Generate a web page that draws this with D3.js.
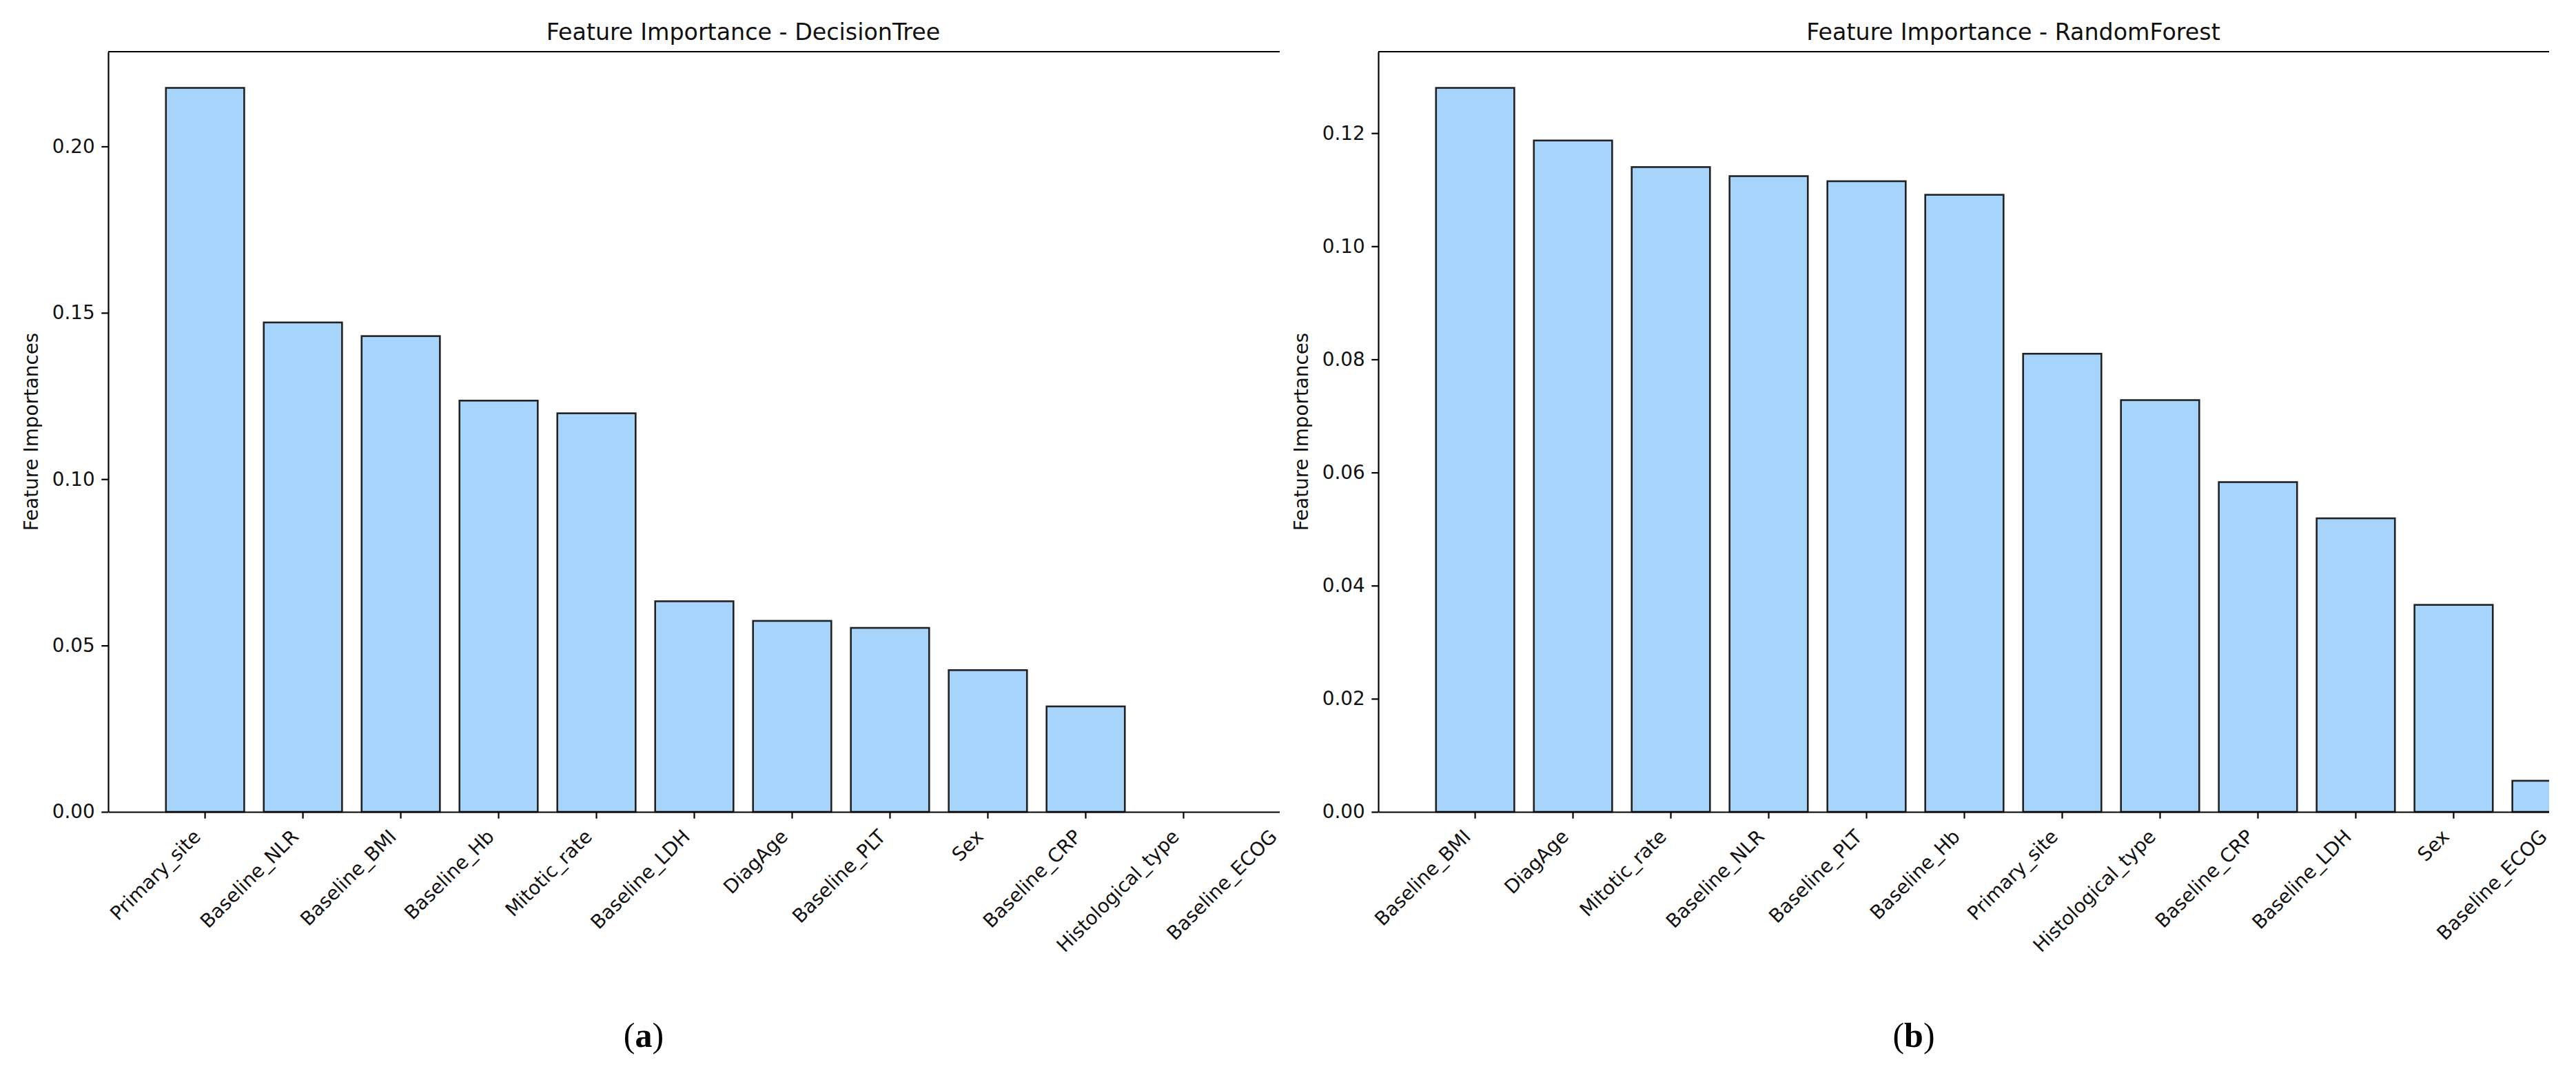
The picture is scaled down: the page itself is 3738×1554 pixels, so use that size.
<!DOCTYPE html>
<html>
<head>
<meta charset="utf-8">
<script src="https://cdn.jsdelivr.net/npm/d3@7"></script>
<style>
  body { margin: 0; background: #fff; }
  svg { display: block; }
</style>
</head>
<body>
<div class="canvas"></div>
<script>
// data
const dtFeatures = ['Primary_site', 'Baseline_NLR', 'Baseline_BMI', 'Baseline_Hb', 'Mitotic_rate', 'Baseline_LDH',
    'DiagAge', 'Baseline_PLT', 'Sex', 'Baseline_CRP', 'Histological_type', 'Baseline_ECOG']
const dtValues = [0.2176, 0.1471, 0.1430, 0.1236, 0.1198, 0.0633, 0.0574, 0.0553, 0.0426, 0.0317, 0, 0]

const rfFeatures = ['Baseline_BMI', 'DiagAge', 'Mitotic_rate', 'Baseline_NLR', 'Baseline_PLT', 'Baseline_Hb',
    'Primary_site', 'Histological_type', 'Baseline_CRP', 'Baseline_LDH', 'Sex', 'Baseline_ECOG']
const rfValues = [0.1280, 0.1187, 0.1140, 0.1124, 0.1115, 0.1091, 0.0810, 0.0728, 0.0583, 0.0519, 0.0366, 0.0055]

const dtTicks = [0, 0.05, 0.10, 0.15, 0.20]
const rfTicks = [0, 0.02, 0.04, 0.06, 0.08, 0.10, 0.12]

const titles = ['Feature Importance - DecisionTree', 'Feature Importance - RandomForest']
const panelLetters = ['a', 'b']
const yLabel = 'Feature Importances'

// dimensions
const dimensions = { width: 3738, height: 1554 }
const plot = { top: 75, bottom: 1178, width: 1843 }

const svg = d3.select('.canvas')
    .append('svg')
    .attr('width', dimensions.width)
    .attr('height', dimensions.height)

const defs = svg.append('defs')

const drawPanel = (idx, features, values, ticks, left, cropLeft, cropRight) => {

    // each half of the figure is cut off on the right
    defs.append('clipPath')
        .attr('id', `clip${idx}`)
        .append('rect')
        .attr('x', cropLeft)
        .attr('y', 0)
        .attr('width', cropRight - cropLeft)
        .attr('height', dimensions.height)

    const panel = svg.append('g')
        .attr('clip-path', `url(#clip${idx})`)

    const x = d3.scaleBand()
        .domain(features)
        .range([left, left + plot.width])
        .paddingInner(0.2)
        .paddingOuter(0.59)

    const y = d3.scaleLinear()
        .domain([0, d3.max(values) * 1.05])
        .range([plot.bottom, plot.top])

    // bars
    panel.selectAll('rect.bar')
        .data(features)
        .enter()
        .append('rect')
        .attr('class', 'bar')
        .attr('x', d => x(d))
        .attr('width', x.bandwidth())
        .attr('y', (d, i) => y(values[i]))
        .attr('height', (d, i) => plot.bottom - y(values[i]))
        .attr('fill', '#a6d4fa')
        .attr('stroke', '#222')
        .attr('stroke-width', 2.6)

    // axes
    const yAxis = d3.axisLeft(y)
        .tickValues(ticks)
        .tickFormat(d3.format('.2f'))
        .tickSize(9.7)
        .tickSizeOuter(0)
        .tickPadding(9.7)

    const xAxis = d3.axisBottom(x)
        .tickSize(9.7)
        .tickSizeOuter(0)
        .tickPadding(9.7)

    const yAxisGroup = panel.append('g')
        .attr('transform', `translate(${left}, 0)`)
        .call(yAxis)

    const xAxisGroup = panel.append('g')
        .attr('transform', `translate(0, ${plot.bottom})`)
        .call(xAxis)

    // top spine
    panel.append('line')
        .attr('x1', left)
        .attr('x2', left + plot.width)
        .attr('y1', plot.top)
        .attr('y2', plot.top)
        .attr('stroke', '#000')
        .attr('stroke-width', 2.2)

    panel.selectAll('.domain, .tick line')
        .attr('stroke', '#000')
        .attr('stroke-width', 2.2)

    yAxisGroup.selectAll('text')
        .attr('font-family', 'DejaVu Sans')
        .attr('font-size', 27.8)
        .attr('fill', '#111')

    // rotated labels, upper right corner under the tick
    xAxisGroup.selectAll('text')
        .attr('font-family', 'DejaVu Sans')
        .attr('font-size', 27.8)
        .attr('fill', '#111')
        .attr('text-anchor', 'end')
        .attr('x', 0)
        .attr('y', -6.7)
        .attr('dy', null)
        .attr('transform', 'translate(0, 42.4) rotate(-45)')

    // y label
    panel.append('text')
        .attr('transform', `translate(${left - 112}, ${(plot.top + plot.bottom) / 2}) rotate(-90)`)
        .attr('text-anchor', 'middle')
        .attr('dy', '0.35em')
        .attr('font-family', 'DejaVu Sans')
        .attr('font-size', 27.8)
        .attr('fill', '#111')
        .text(yLabel)

    // title
    panel.append('text')
        .attr('x', left + plot.width / 2)
        .attr('y', plot.top - 16.7)
        .attr('text-anchor', 'middle')
        .attr('font-family', 'DejaVu Sans')
        .attr('font-size', 33.3)
        .attr('fill', '#111')
        .text(titles[idx])
}

drawPanel(0, dtFeatures, dtValues, dtTicks, 157, 0, 1857)
drawPanel(1, rfFeatures, rfValues, rfTicks, 2000, 1857, 3699)

// sub figure letters
const letterX = [934, 2777]
panelLetters.forEach((letter, i) => {
    const t = svg.append('text')
        .attr('x', letterX[i])
        .attr('y', 1519)
        .attr('text-anchor', 'middle')
        .attr('font-family', 'Liberation Serif')
        .attr('font-size', 50)
        .attr('fill', '#000')
    t.append('tspan').text('(')
    t.append('tspan').attr('font-weight', 'bold').text(letter)
    t.append('tspan').text(')')
})
</script>
</body>
</html>
